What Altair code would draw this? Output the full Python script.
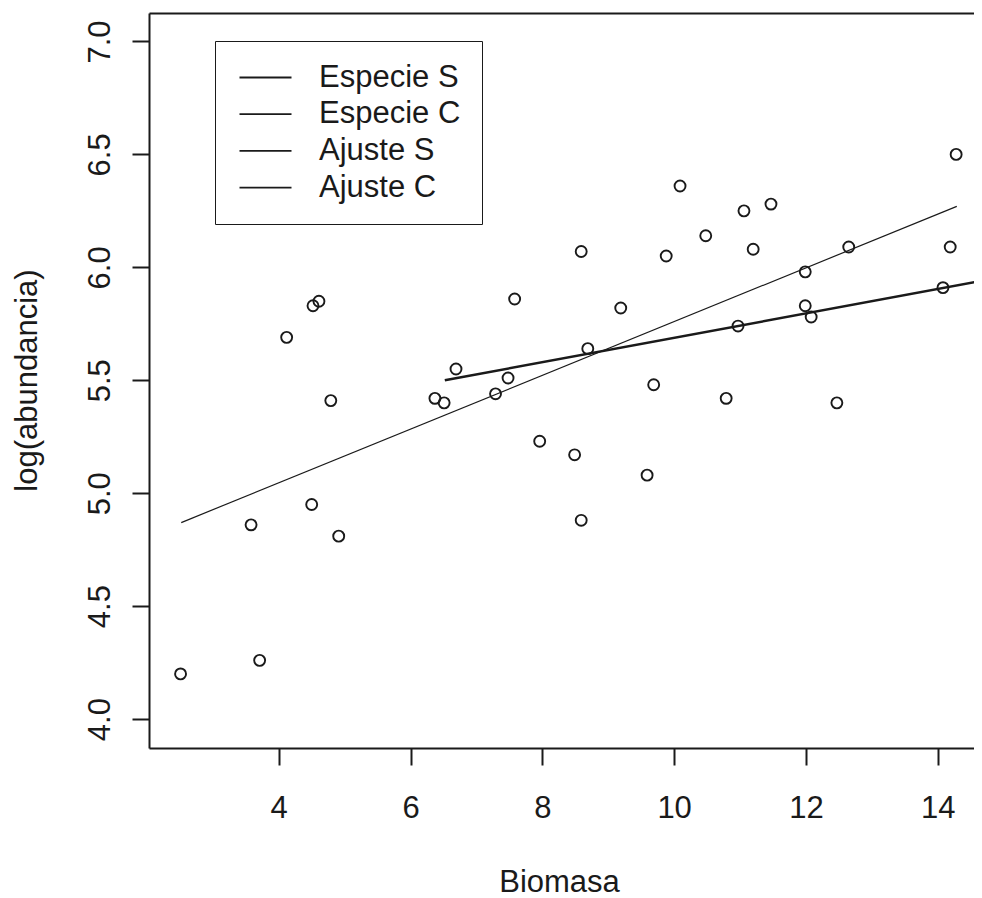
import altair as alt
import pandas as pd

# ---- data ----
biomasa = [2.51, 3.58, 3.71, 4.12, 4.50, 4.52, 4.61, 4.79, 4.91, 6.37, 6.51, 6.69,
           7.29, 7.48, 7.58, 7.96, 8.49, 8.59, 8.59, 8.69, 9.19, 9.59, 9.69, 9.88,
           10.09, 10.48, 10.79, 10.97, 11.06, 11.20, 11.47, 11.99, 11.99, 12.08,
           12.47, 12.65, 14.08, 14.19, 14.28]
log_abund = [4.20, 4.86, 4.26, 5.69, 4.95, 5.83, 5.85, 5.41, 4.81, 5.42, 5.40, 5.55,
             5.44, 5.51, 5.86, 5.23, 5.17, 6.07, 4.88, 5.64, 5.82, 5.08, 5.48, 6.05,
             6.36, 6.14, 5.42, 5.74, 6.25, 6.08, 6.28, 5.98, 5.83, 5.78,
             5.40, 6.09, 5.91, 6.09, 6.50]

fit_series = ["Ajuste S", "Ajuste S", "Ajuste C", "Ajuste C"]
fit_x = [2.52, 14.29, 6.52, 14.67]
fit_y = [4.87, 6.27, 5.50, 5.94]

legend_labels = ["Especie S", "Especie C", "Ajuste S", "Ajuste C"]
x_ticks = [4, 6, 8, 10, 12, 14]
y_ticks = [4.0, 4.5, 5.0, 5.5, 6.0, 6.5, 7.0]

pts = pd.DataFrame({"biomasa": biomasa, "logab": log_abund})
fits = pd.DataFrame({"serie": fit_series, "biomasa": fit_x, "logab": fit_y})

FONT = "Liberation Sans"
INK = "#1a1a1a"
FS = 31

xscale = alt.Scale(domain=[2.031, 14.551], nice=False, zero=False)
yscale = alt.Scale(domain=[3.872, 7.126], nice=False, zero=False)
cscale = alt.Scale(domain=legend_labels, range=[INK] * 4)

y_axis = alt.Axis(values=y_ticks, format=".1f", title="log(abundancia)", grid=False,
                  labelAngle=270, labelAlign="center", labelBaseline="bottom",
                  labelPadding=16, labelFont=FONT, labelFontSize=FS, labelColor=INK,
                  tickSize=17, tickWidth=2, tickColor=INK, domainWidth=2, domainColor=INK,
                  titleAngle=270, titleX=-122, titleY=367, titleAlign="center",
                  titleBaseline="middle", titleFont=FONT, titleFontSize=FS,
                  titleFontWeight="normal", titleColor=INK)

x_axis = alt.Axis(values=x_ticks, title="Biomasa", grid=False,
                  labelFont=FONT, labelFontSize=FS, labelColor=INK, labelPadding=28,
                  labelBaseline="top",
                  tickSize=17, tickWidth=2, tickColor=INK, domainWidth=2, domainColor=INK,
                  titleX=410, titleY=143, titleAlign="center", titleBaseline="alphabetic",
                  titleFont=FONT, titleFontSize=FS, titleFontWeight="normal", titleColor=INK)

top_axis = alt.Axis(orient="top", labels=False, ticks=False, title=None, grid=False,
                    domainWidth=2, domainColor=INK)

points = alt.Chart(pts).mark_point(shape="circle", filled=False, color=INK, size=120,
                                   strokeWidth=1.9, opacity=1).encode(
    x=alt.X("biomasa:Q", scale=xscale, axis=x_axis),
    y=alt.Y("logab:Q", scale=yscale, axis=y_axis),
)

legend = alt.Legend(orient="none", legendX=66, legendY=28, title=None,
                    symbolType="M-2,0H2", symbolSize=676, symbolStrokeWidth=1.8,
                    symbolOffset=14,
                    labelFont=FONT, labelFontSize=FS, labelColor=INK, labelOffset=38,
                    labelLimit=400, padding=21, strokeColor=INK, rowPadding=4.7)

line_s = alt.Chart(fits).transform_filter(alt.datum.serie == "Ajuste S").mark_line(
    strokeWidth=1.2, clip=True).encode(
    x=alt.X("biomasa:Q", scale=xscale, axis=top_axis),
    y=alt.Y("logab:Q", scale=yscale, axis=y_axis),
    color=alt.Color("serie:N", scale=cscale, legend=legend),
)

line_c = alt.Chart(fits).transform_filter(alt.datum.serie == "Ajuste C").mark_line(
    strokeWidth=2.4, clip=True).encode(
    x=alt.X("biomasa:Q", scale=xscale, axis=None),
    y=alt.Y("logab:Q", scale=yscale, axis=y_axis),
    color=alt.Color("serie:N", scale=cscale, legend=legend),
)

chart = alt.layer(points, line_s, line_c).resolve_axis(x="independent").properties(
    width=825, height=735,
    autosize=alt.AutoSizeParams(type="none"),
    padding={"left": 141, "top": 5, "right": 0, "bottom": 150},
    background="white",
).configure_view(stroke=None)

chart.save("out.html", embed_options={"renderer": "svg", "actions": False})
